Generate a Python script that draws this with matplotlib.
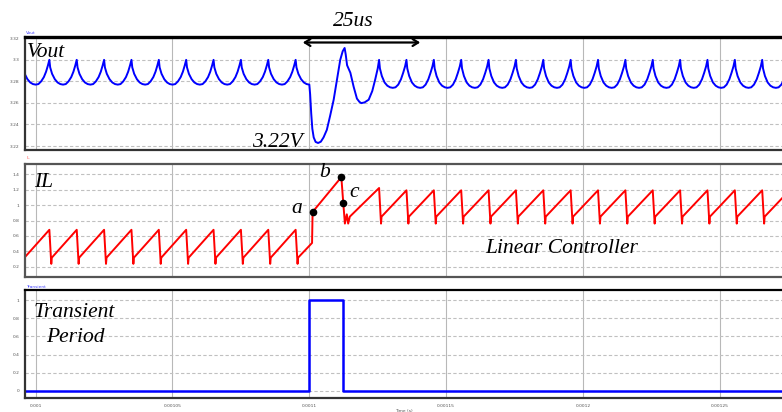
import numpy as np
import matplotlib
matplotlib.use("Agg")
import matplotlib.pyplot as plt

# ---- data (times in us) ----
# one switching period after each peak: offsets (us) and values
vout_dt = [0.3, 1.0, 2.0, 3.0, 4.0, 5.0, 6.0, 7.0, 8.0, 8.8, 9.5, 10.0]
vout_pre = [3.293, 3.287, 3.282, 3.279, 3.2775, 3.277, 3.2775, 3.280, 3.284, 3.289, 3.295, 3.300]
vout_post = [3.292, 3.285, 3.279, 3.276, 3.2745, 3.274, 3.2745, 3.277, 3.282, 3.288, 3.294, 3.300]
vout_pre_peaks = [995, 1005, 1015, 1025, 1035, 1045, 1055, 1065, 1075, 1085]
vout_post_peaks = [1125.5, 1135.5, 1145.5, 1155.5, 1165.5, 1175.5, 1185.5,
                   1195.5, 1205.5, 1215.5, 1225.5, 1235.5, 1245.5, 1255.5, 1265.5]
vout_tr_t = [1095.3, 1096, 1097, 1098, 1099, 1100, 1100.3, 1100.7, 1101.1, 1101.6,
             1102.3, 1103.2, 1104.2, 1105.2, 1106.4, 1107.6, 1108.9, 1110.2, 1111.3,
             1112.2, 1112.9, 1113.3, 1113.8, 1115.0, 1116.2, 1117.4, 1118.3, 1119.0,
             1120.2, 1121.7, 1123.0, 1124.1, 1125.0, 1125.5]
vout_tr_v = [3.293, 3.287, 3.282, 3.279, 3.2775, 3.277, 3.268, 3.250, 3.236, 3.228,
             3.2238, 3.2228, 3.2240, 3.228, 3.235, 3.248, 3.263, 3.283, 3.300,
             3.308, 3.311, 3.305, 3.295, 3.288, 3.275, 3.264, 3.261, 3.2598,
             3.2605, 3.263, 3.271, 3.282, 3.292, 3.300]

il_dt = [0.7, 0.9, 10.0]
il_pre = [0.24, 0.32, 0.68]
il_post = [0.76, 0.85, 1.19]
il_pre_peaks = [995, 1005, 1015, 1025, 1035, 1045, 1055, 1065, 1075, 1085]
il_post_peaks = vout_post_peaks
il_tr_t = [1095.7, 1095.9, 1101.0, 1101.2, 1111.7, 1112.4, 1113.0, 1113.7, 1114.2, 1114.8, 1125.5]
il_tr_v = [0.24, 0.32, 0.51, 0.91, 1.36, 1.03, 0.76, 0.88, 0.76, 0.85, 1.22]
abc_idx = [3, 4, 5]   # points a, b, c in the transient list

tr_t = [990, 1100, 1100, 1112.4, 1112.4, 1280]
tr_v = [0, 0, 1, 1, 0, 0]

xticks = [0.001, 0.00105, 0.0011, 0.00115, 0.0012, 0.00125]
xtick_labels = ["0.001", "0.00105", "0.0011", "0.00115", "0.0012", "0.00125"]
vout_ticks = [3.22, 3.24, 3.26, 3.28, 3.3, 3.32]
vout_tick_labels = ["3.22", "3.24", "3.26", "3.28", "3.3", "3.32"]
il_ticks = [0.2, 0.4, 0.6, 0.8, 1.0, 1.2, 1.4]
il_tick_labels = ["0.2", "0.4", "0.6", "0.8", "1", "1.2", "1.4"]
tr_ticks = [0, 0.2, 0.4, 0.6, 0.8, 1.0]
tr_tick_labels = ["0", "0.2", "0.4", "0.6", "0.8", "1"]


def build(start_t, start_v, peaks1, dt, vals1, mid_t, mid_v, peaks2, vals2):
    t = [start_t]
    v = [start_v]
    for p in peaks1:
        t += [p + d for d in dt]
        v += list(vals1)
    t += mid_t
    v += mid_v
    for p in peaks2:
        t += [p + d for d in dt]
        v += list(vals2)
    return np.array(t) * 1e-6, np.array(v)


vt, vv = build(995, 3.300, vout_pre_peaks, vout_dt, vout_pre,
               vout_tr_t, vout_tr_v, vout_post_peaks, vout_post)
it, iv = build(995, 0.68, il_pre_peaks, il_dt, il_pre,
               il_tr_t, il_tr_v, il_post_peaks, il_post)

W, H = 782, 412
fig = plt.figure(figsize=(W / 100, H / 100), dpi=100)


def px_axes(x0, y0, x1, y1):
    return fig.add_axes([x0 / W, 1 - y1 / H, (x1 - x0) / W, (y1 - y0) / H])


xlim = (996.1e-6, 1273.1e-6)
tick_kw = dict(labelsize=3.2, labelcolor="#555555", length=0, pad=4)


def style(ax, yticks, ylabels, ylim, show_x=False):
    ax.set_xlim(*xlim)
    ax.set_ylim(*ylim)
    ax.set_yticks(yticks)
    ax.set_yticklabels(ylabels)
    ax.set_xticks(xticks)
    if show_x:
        ax.set_xticklabels(xtick_labels)
    else:
        ax.set_xticklabels([])
    ax.tick_params(**tick_kw)
    ax.grid(axis="y", color="#c0c0c0", linestyle=(0, (3, 2)), linewidth=0.8)
    ax.grid(axis="x", color="#b8b8b8", linestyle="-", linewidth=0.8)
    ax.set_axisbelow(True)
    for s in ["left", "top", "bottom"]:
        ax.spines[s].set_color("#333333")
        ax.spines[s].set_linewidth(1.6)
    ax.spines["right"].set_visible(False)


ax1 = px_axes(25, 37, 783, 150)
ax1.plot(vt, vv, color="#0000ff", lw=1.4)
style(ax1, vout_ticks, vout_tick_labels, (3.2163, 3.3212))
ax1.spines["top"].set_color("black")
ax1.spines["top"].set_linewidth(2.4)

ax2 = px_axes(25, 164, 783, 277)
ax2.plot(it, iv, color="#ff0000", lw=1.4)
ax2.plot([il_tr_t[i] * 1e-6 for i in abc_idx], [il_tr_v[i] for i in abc_idx],
         "o", color="black", ms=4.5, zorder=5)
style(ax2, il_ticks, il_tick_labels, (0.07, 1.53))
for s in ["left", "top", "bottom"]:
    ax2.spines[s].set_color("#555555")

ax3 = px_axes(25, 290, 783, 398)
ax3.plot(np.array(tr_t) * 1e-6, tr_v, color="#0000ff", lw=1.8)
style(ax3, tr_ticks, tr_tick_labels, (-0.077, 1.11), show_x=True)
ax3.spines["top"].set_color("black")
ax3.set_xlabel("Time (s)", fontsize=3.2, color="#555555", labelpad=1)

# small channel names
fig.text(26 / W, 1 - 34 / H, "Vout", fontsize=3.2, color="#4444ff")
fig.text(27 / W, 1 - 159 / H, "IL", fontsize=3.2, color="#ff5555")
fig.text(26 / W, 1 - 288 / H, "Transient", fontsize=3.2, color="#4444ff")

serif = dict(family="Liberation Serif", style="italic", fontsize=15.5, color="black")


def ptext(x, y, s, **kw):
    d = dict(serif)
    d.update(kw)
    fig.text(x / W, 1 - y / H, s, va="baseline", **d)


ptext(27, 57, "Vout")
ptext(333, 26, "25us")
ptext(252, 147, "3.22V")
ptext(34, 187, "IL")
ptext(291, 213, "a")
ptext(319, 177, "b")
ptext(349, 197, "c")
ptext(485, 253, "Linear Controller")
ptext(34, 317, "Transient")
ptext(46, 342, "Period")

# 25us double arrow
fig.add_artist(matplotlib.patches.FancyArrowPatch(
    (300 / W, 1 - 42.5 / H), (423 / W, 1 - 42.5 / H), transform=fig.transFigure,
    arrowstyle="<->,head_length=4,head_width=2.5", color="black", lw=1.6))

fig.savefig("out.png", dpi=100)
